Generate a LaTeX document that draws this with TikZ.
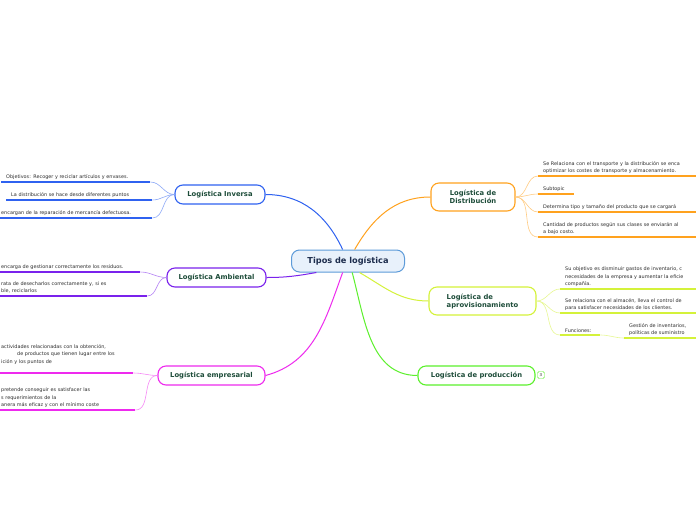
\documentclass[tikz,border=0pt]{standalone}
\usepackage{fontspec}
\setmainfont{DejaVu Sans}
\usepackage{xcolor}
\definecolor{CentralBg}{HTML}{E8F1FB}
\definecolor{CentralLine}{HTML}{5D9BD9}
\definecolor{CentralText}{HTML}{1C2C4C}
\definecolor{TopicText}{HTML}{1E4D3A}
\definecolor{LeafText}{HTML}{2E2E2E}
\definecolor{InvBlue}{HTML}{2F62F0}
\definecolor{AmbPurple}{HTML}{7A22EC}
\definecolor{EmpMagenta}{HTML}{EE2AEE}
\definecolor{DisOrange}{HTML}{FFA21E}
\definecolor{AprYellow}{HTML}{D4F23A}
\definecolor{ProdGreen}{HTML}{5CF02C}
\usepackage{tikz}

\begin{document}
\begin{tikzpicture}[x=1pt, y=-1pt,
  central/.style={draw=CentralLine, line width=1pt, rounded corners=8pt, fill=CentralBg, text=CentralText, font=\bfseries\fontsize{8.2}{9.5}\selectfont, minimum width=113pt, minimum height=22pt},
  topic/.style={draw=#1, line width=1.1pt, rounded corners=8pt, fill=white, text=TopicText, font=\bfseries\fontsize{6.8}{8}\selectfont, minimum height=19pt, align=center},
  leaf/.style={anchor=south west, align=left, inner xsep=5pt, inner ysep=2.5pt, text=LeafText, font=\fontsize{4.9}{7.2}\selectfont},
  branch/.style={draw=#1, line width=1pt},
  twig/.style={draw=#1!55, line width=.6pt},
  uline/.style={draw=#1, line width=1.6pt}]
  \path[use as bounding box, fill=white] (0,0) rectangle (696,520);

  \node[central] (tipos) at (348,261) {Tipos de logística};
  \node[topic=InvBlue, minimum width=90pt] (inversa) at (220,194.5) {Logística Inversa};
  \node[topic=AmbPurple, minimum width=99pt] (ambiental) at (216.5,277.5) {Logística Ambiental};
  \node[topic=EmpMagenta, minimum width=107pt] (empresarial) at (211.5,375.5) {Logística empresarial};
  \node[topic=DisOrange, minimum width=84pt, minimum height=28pt] (distribucion) at (473,197) {Logística de\\Distribución};
  \node[topic=AprYellow, minimum width=107pt, minimum height=28pt, align=left] (aprovisionamiento) at (482.5,301) {Logística de\\aprovisionamiento};
  \node[topic=ProdGreen, minimum width=117pt] (produccion) at (476.5,375.5) {Logística de producción};
  \node[draw=ProdGreen, rounded corners=1.5pt, minimum size=7pt, inner sep=0pt, text=LeafText, font=\fontsize{4}{4}\selectfont] (produccion3) at (541,375) {3};

  \node[leaf, text width=139pt] (inv1) at (1,182) {Objetivos: Recoger y reciclar artículos y envases.};
  \node[leaf, text width=136pt] (inv2) at (6,200) {La distribución se hace desde diferentes puntos};
  \node[leaf, text width=146pt] (inv3) at (-4,218) {encargan de la reparación de mercancía defectuosa.};
  \node[leaf, text width=134pt] (amb1) at (-4,272) {encarga de gestionar correctamente los residuos.};
  \node[leaf, text width=141pt] (amb2) at (-4,296) {rata de desecharlos correctamente y, si es\\ble, reciclarlos};
  \node[leaf, text width=127pt] (emp1) at (-4,373) {actividades relacionadas con la obtención,\\\hspace*{16pt}de productos que tienen lugar entre los\\ición y los puntos de\\~};
  \node[leaf, text width=129pt] (emp2) at (-4,410) {pretende conseguir es satisfacer las\\s requerimientos de la\\anera más eficaz y con el mínimo coste};
  \node[leaf, text width=170pt] (dis1) at (538,176) {Se Relaciona con el transporte y la distribución se enca\\optimizar los costes de transporte y almacenamiento.};
  \node[leaf, text width=26pt] (dis2) at (538,194) {Subtopic};
  \node[leaf, text width=170pt] (dis3) at (538,212) {Determina tipo y tamaño del producto que se cargará};
  \node[leaf, text width=170pt] (dis4) at (538,237) {Cantidad de productos según sus clases se enviarán al\\a bajo costo.};
  \node[leaf, text width=150pt] (apr1) at (560,289) {Su objetivo es disminuir gastos de inventario, c\\necesidades de la empresa y aumentar la eficie\\compañía.};
  \node[leaf, text width=150pt] (apr2) at (560,313) {Se relaciona con el almacén, lleva el control de\\para satisfacer necesidades de los clientes.};
  \node[leaf, text width=30pt] (apr3) at (560,335) {Funciones:};
  \node[leaf, text width=80pt] (apr4) at (624,338) {Gestión de inventarios,\\políticas de suministro};

  \draw[branch=InvBlue] (tipos.115) to[out=115,in=0] (inversa.east);
  \draw[branch=DisOrange] (tipos.60) to[out=60,in=180] (distribucion.west);
  \draw[branch=AmbPurple] (tipos.200) to[out=190,in=0] (ambiental.east);
  \draw[branch=EmpMagenta] (tipos.245) to[out=250,in=15] (empresarial.east);
  \draw[branch=ProdGreen] (tipos.290) to[out=285,in=180] (produccion.west);
  \draw[branch=AprYellow] (tipos.315) to[out=-30,in=180] (aprovisionamiento.west);

  \draw[twig=InvBlue] (inversa.west) to[out=180,in=0] (inv1.south east); \draw[twig=InvBlue] (inversa.west) to[out=180,in=0] (inv2.south east); \draw[twig=InvBlue] (inversa.west) to[out=180,in=0] (inv3.south east);
  \draw[twig=AmbPurple] (ambiental.west) to[out=180,in=0] (amb1.south east); \draw[twig=AmbPurple] (ambiental.west) to[out=180,in=0] (amb2.south east);
  \draw[twig=EmpMagenta] (empresarial.west) to[out=180,in=0] (emp1.south east); \draw[twig=EmpMagenta] (empresarial.west) to[out=180,in=0] (emp2.south east);
  \draw[twig=DisOrange] (distribucion.east) to[out=0,in=180] (dis1.south west); \draw[twig=DisOrange] (distribucion.east) to[out=0,in=180] (dis2.south west);
  \draw[twig=DisOrange] (distribucion.east) to[out=0,in=180] (dis3.south west); \draw[twig=DisOrange] (distribucion.east) to[out=0,in=180] (dis4.south west);
  \draw[twig=AprYellow] (aprovisionamiento.east) to[out=0,in=180] (apr1.south west); \draw[twig=AprYellow] (aprovisionamiento.east) to[out=0,in=180] (apr2.south west);
  \draw[twig=AprYellow] (aprovisionamiento.east) to[out=0,in=180] (apr3.south west); \draw[twig=AprYellow] (apr3.south east) to[out=0,in=180] (apr4.south west);

  \draw[uline=InvBlue] (inv1.south west) -- (inv1.south east); \draw[uline=InvBlue] (inv2.south west) -- (inv2.south east); \draw[uline=InvBlue] (inv3.south west) -- (inv3.south east);
  \draw[uline=AmbPurple] (amb1.south west) -- (amb1.south east); \draw[uline=AmbPurple] (amb2.south west) -- (amb2.south east);
  \draw[uline=EmpMagenta] (emp1.south west) -- (emp1.south east); \draw[uline=EmpMagenta] (emp2.south west) -- (emp2.south east);
  \draw[uline=DisOrange] (dis1.south west) -- (dis1.south east); \draw[uline=DisOrange] (dis2.south west) -- (dis2.south east);
  \draw[uline=DisOrange] (dis3.south west) -- (dis3.south east); \draw[uline=DisOrange] (dis4.south west) -- (dis4.south east);
  \draw[uline=AprYellow] (apr1.south west) -- (apr1.south east); \draw[uline=AprYellow] (apr2.south west) -- (apr2.south east);
  \draw[uline=AprYellow] (apr3.south west) -- (apr3.south east); \draw[uline=AprYellow] (apr4.south west) -- (apr4.south east);
\end{tikzpicture}
\end{document}
